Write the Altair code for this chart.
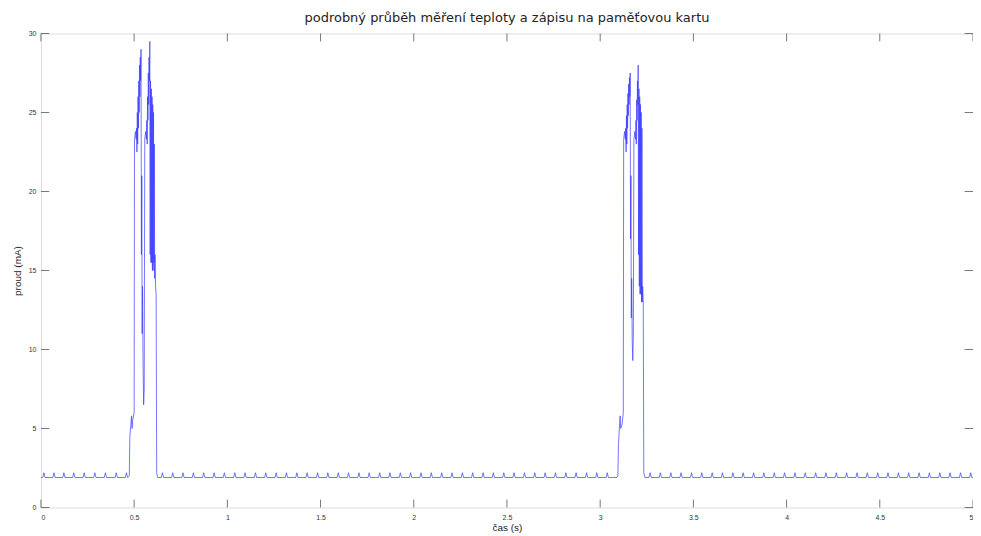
import altair as alt
import pandas as pd

# ---- data ----
x_ticks = [0, 0.5, 1, 1.5, 2, 2.5, 3, 3.5, 4, 4.5, 5]
y_ticks = [0, 5, 10, 15, 20, 25, 30]

base_level = 1.9
bump_level = 2.2

# times of the small periodic bumps on the idle baseline
bumps_a = [0.016, 0.070, 0.123, 0.176, 0.232, 0.289, 0.346, 0.404, 0.459]
bumps_b = [0.652, 0.707, 0.762, 0.818, 0.873, 0.929, 0.984, 1.040, 1.095, 1.151,
           1.206, 1.262, 1.317, 1.373, 1.428, 1.484, 1.539, 1.595, 1.650, 1.706,
           1.761, 1.817, 1.872, 1.928, 1.983, 2.039, 2.094, 2.150, 2.205, 2.261,
           2.316, 2.372, 2.427, 2.483, 2.538, 2.594, 2.649, 2.705, 2.760, 2.816,
           2.871, 2.927, 2.982, 3.038]
bumps_c = [3.268, 3.323, 3.379, 3.434, 3.490, 3.545, 3.601, 3.656, 3.712, 3.767,
           3.823, 3.878, 3.934, 3.989, 4.045, 4.100, 4.156, 4.211, 4.267, 4.322,
           4.378, 4.433, 4.489, 4.544, 4.600, 4.655, 4.711, 4.766, 4.822, 4.877,
           4.933, 4.988]

# first burst (measurement + card write)
burst1_t = [0.466, 0.474, 0.477, 0.482, 0.486, 0.489, 0.492, 0.500, 0.502, 0.507,
            0.511, 0.513, 0.515, 0.517, 0.519, 0.521, 0.523, 0.525, 0.527, 0.529,
            0.531, 0.533, 0.535, 0.537, 0.539, 0.541, 0.543, 0.545, 0.548, 0.551,
            0.554, 0.557, 0.562, 0.566, 0.568, 0.570, 0.572, 0.574, 0.576, 0.578,
            0.580, 0.582, 0.584, 0.586, 0.588, 0.590, 0.592, 0.594, 0.596, 0.598,
            0.600, 0.602, 0.604, 0.606, 0.608, 0.610, 0.612, 0.615, 0.618, 0.621,
            0.626]
burst1_i = [1.9, 2.0, 4.5, 5.2, 5.8, 5.0, 5.5, 6.0, 23.3, 23.8,
            23.3, 24.0, 22.5, 25.0, 23.0, 26.0, 24.0, 27.0, 25.0, 28.0,
            26.0, 28.5, 27.0, 29.0, 16.0, 21.0, 11.0, 14.0, 9.0, 6.5,
            7.5, 23.3, 23.8, 23.3, 24.5, 23.0, 26.0, 24.5, 27.5, 25.5,
            28.5, 27.0, 29.5, 16.0, 27.0, 15.5, 26.5, 15.5, 26.0, 15.0,
            25.5, 15.0, 25.0, 15.5, 23.0, 14.5, 16.0, 14.0, 13.5, 2.2,
            1.9]

# second burst
burst2_t = [3.090, 3.095, 3.098, 3.103, 3.107, 3.110, 3.118, 3.124, 3.126, 3.131,
            3.135, 3.137, 3.139, 3.141, 3.143, 3.145, 3.147, 3.149, 3.151, 3.153,
            3.155, 3.157, 3.159, 3.161, 3.163, 3.165, 3.167, 3.169, 3.172, 3.175,
            3.178, 3.181, 3.186, 3.190, 3.192, 3.194, 3.196, 3.198, 3.200, 3.202,
            3.204, 3.206, 3.208, 3.210, 3.212, 3.214, 3.216, 3.218, 3.220, 3.222,
            3.224, 3.226, 3.228, 3.231, 3.234, 3.240]
burst2_i = [1.9, 2.0, 4.0, 5.0, 5.8, 5.0, 5.3, 6.0, 23.3, 23.8,
            23.3, 24.0, 22.5, 24.8, 23.0, 25.5, 24.0, 26.2, 24.8, 26.8,
            25.5, 27.2, 26.0, 27.5, 17.0, 21.0, 12.0, 14.5, 10.5, 9.3,
            11.0, 23.3, 23.8, 23.3, 24.5, 23.0, 25.8, 24.5, 27.0, 25.5,
            28.0, 16.0, 26.5, 14.0, 26.0, 13.5, 25.5, 13.5, 25.0, 13.0,
            24.0, 13.0, 14.0, 13.0, 2.2, 1.9]

# ---- assemble the trace ----
ts, vs = [0.0], [base_level]
def add_bumps(times):
    for b in times:
        ts.extend([b - 0.006, b, b + 0.006])
        vs.extend([base_level, bump_level, base_level])

add_bumps(bumps_a)
ts.extend(burst1_t); vs.extend(burst1_i)
add_bumps(bumps_b)
ts.extend(burst2_t); vs.extend(burst2_i)
add_bumps(bumps_c)
ts.append(5.0); vs.append(base_level)

df = pd.DataFrame({"t": ts, "i": vs})
df["idx"] = range(len(df))

xs = alt.Scale(domain=[0, 5], nice=False, zero=False)
ys = alt.Scale(domain=[0, 30], nice=False, zero=False)

FONT = "Liberation Sans"

x_axis = alt.Axis(values=x_ticks, format="~g", title="čas (s)",
                  ticks=False, domain=False, grid=False,
                  labelFontSize=7, labelFont=FONT, labelColor="#333",
                  labelPadding=6, titleFont=FONT, titleFontSize=10,
                  titleFontWeight="normal", titleColor="#222",
                  titlePadding=2)
y_axis = alt.Axis(values=y_ticks, format="~g", title="proud (mA)",
                  ticks=False, domain=False, grid=False,
                  labelFontSize=7, labelFont=FONT, labelColor="#333",
                  labelPadding=5, titleFont=FONT, titleFontSize=10,
                  titleFontWeight="normal", titleColor="#222",
                  titlePadding=6)

line = alt.Chart(df).mark_line(color="#3a3aff", strokeWidth=0.7).encode(
    x=alt.X("t:Q", scale=xs, axis=x_axis),
    y=alt.Y("i:Q", scale=ys, axis=y_axis),
    order="idx:Q",
)

# inward tick marks (MATLAB style), drawn through the same scales
xt_bot = pd.DataFrame({"t": x_ticks, "a": 0.0, "b": 0.5})
xt_top = pd.DataFrame({"t": x_ticks, "a": 29.5, "b": 30.0})
yt_left = pd.DataFrame({"i": y_ticks, "a": 0.0, "b": 0.045})
yt_right = pd.DataFrame({"i": y_ticks, "a": 4.955, "b": 5.0})

tick_col = "#555"

def xtick_layer(d):
    return alt.Chart(d).mark_rule(color=tick_col, strokeWidth=0.8).encode(
        x=alt.X("t:Q", scale=xs, axis=x_axis),
        y=alt.Y("a:Q", scale=ys, axis=y_axis),
        y2="b:Q")

def ytick_layer(d):
    return alt.Chart(d).mark_rule(color=tick_col, strokeWidth=0.8).encode(
        y=alt.Y("i:Q", scale=ys, axis=y_axis),
        x=alt.X("a:Q", scale=xs, axis=x_axis),
        x2="b:Q")

chart = alt.layer(
    line,
    xtick_layer(xt_bot), xtick_layer(xt_top),
    ytick_layer(yt_left), ytick_layer(yt_right),
).properties(
    width=934, height=475,
    title=alt.TitleParams("podrobný průběh měření teploty a zápisu na paměťovou kartu",
                          font="DejaVu Sans", fontSize=13, fontWeight="normal",
                          color="#222", offset=5),
    autosize=alt.AutoSizeParams(type="none"),
    padding={"left": 33, "top": 25, "right": 0, "bottom": 26},
).configure_view(stroke="#555", strokeWidth=1).configure(background="white")

chart.save("out.html", embed_options={"renderer": "svg", "actions": False})
